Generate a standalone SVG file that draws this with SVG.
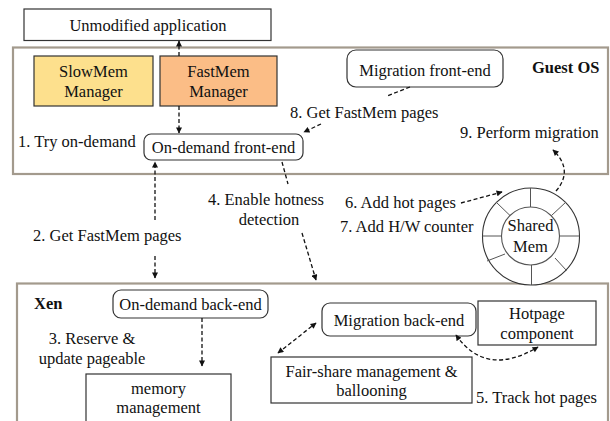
<svg xmlns="http://www.w3.org/2000/svg" width="610" height="421" viewBox="0 0 610 421">
<defs>
<style>
text{font-family:"Liberation Serif","Times New Roman",serif;font-size:16.5px;fill:#111}
.c{text-anchor:middle}
.b{font-weight:bold}
.box{fill:#fff;stroke:#333;stroke-width:1.2}
.layer{fill:none;stroke:#a39a8d;stroke-width:2.2}
.dash{fill:none;stroke:#111;stroke-width:1.3;stroke-dasharray:4 2.5}
.spoke{stroke:#555;stroke-width:1}
</style>
<marker id="ah" viewBox="0 0 10 10" refX="9" refY="5" markerWidth="7" markerHeight="6" markerUnits="userSpaceOnUse" orient="auto-start-reverse">
<path d="M0,0 L10,5 L0,10 Z" fill="#111"/>
</marker>
</defs>
<rect width="610" height="421" fill="#fff"/>

<g id="guest-os">
<rect class="layer" x="13" y="47.5" width="595" height="126.5"/>
<text class="b" x="532" y="73">Guest OS</text>
</g>
<g id="xen">
<rect class="layer" x="17" y="283.5" width="591" height="160"/>
<text class="b" x="34" y="309">Xen</text>
</g>

<g id="unmodified-application">
<rect class="box" x="24" y="9" width="247" height="31.5"/>
<text class="c" x="148" y="31">Unmodified application</text>
</g>
<g id="slowmem-manager">
<rect x="34" y="56" width="119" height="50" fill="#fde08d" stroke="#333" stroke-width="1.2"/>
<text class="c" x="93.5" y="77">SlowMem</text>
<text class="c" x="93.5" y="97">Manager</text>
</g>
<g id="fastmem-manager">
<rect x="160" y="56" width="117" height="50" fill="#fbbd86" stroke="#333" stroke-width="1.2"/>
<text class="c" x="218.5" y="77">FastMem</text>
<text class="c" x="218.5" y="97">Manager</text>
</g>
<g id="on-demand-front-end">
<rect class="box" x="144" y="134" width="159" height="26" rx="7"/>
<text class="c" x="223.5" y="153">On-demand front-end</text>
</g>
<g id="migration-front-end">
<rect class="box" x="347" y="50" width="156" height="37" rx="9"/>
<text class="c" x="425" y="76">Migration front-end</text>
</g>
<g id="shared-mem">
<circle cx="531" cy="236.5" r="48.5" fill="#fff" stroke="#333" stroke-width="1.1"/>
<circle cx="530.5" cy="236" r="29" fill="#fff" stroke="#555" stroke-width="1.1"/>
<line class="spoke" x1="530.5" y1="188" x2="530.5" y2="207"/>
<line class="spoke" x1="531.5" y1="265" x2="531.5" y2="285"/>
<line class="spoke" x1="482.5" y1="236" x2="501.5" y2="236"/>
<line class="spoke" x1="559.5" y1="236" x2="579.5" y2="236"/>
<line class="spoke" x1="496" y1="202" x2="510" y2="215.5"/>
<line class="spoke" x1="566" y1="202" x2="551.5" y2="215.5"/>
<line class="spoke" x1="555" y1="258" x2="566.5" y2="270.5"/>
<line class="spoke" x1="487" y1="261" x2="505" y2="254"/>
<text class="c" x="530.5" y="231">Shared</text>
<text class="c" x="530.5" y="252">Mem</text>
</g>
<g id="on-demand-back-end">
<rect class="box" x="113" y="290" width="155" height="28" rx="8"/>
<text class="c" x="190.5" y="310">On-demand back-end</text>
</g>
<g id="memory-management">
<rect class="box" x="86" y="374" width="145" height="60"/>
<text class="c" x="158.5" y="394">memory</text>
<text class="c" x="158.5" y="413">management</text>
</g>
<g id="migration-back-end">
<rect class="box" x="322" y="303" width="154" height="33" rx="8"/>
<text class="c" x="399" y="326">Migration back-end</text>
</g>
<g id="hotpage-component">
<rect class="box" x="478" y="301" width="118" height="44"/>
<text class="c" x="537" y="319">Hotpage</text>
<text class="c" x="537" y="339">component</text>
</g>
<g id="fair-share">
<rect class="box" x="271" y="357" width="201" height="46"/>
<text class="c" x="371.5" y="377">Fair-share management &amp;</text>
<text class="c" x="371.5" y="396">ballooning</text>
</g>

<g id="labels">
<text x="18" y="147">1. Try on-demand</text>
<text x="33" y="241">2. Get FastMem pages</text>
<text class="c" x="92" y="344">3. Reserve &amp;</text>
<text class="c" x="92" y="364">update pageable</text>
<text class="c" x="266" y="205">4. Enable hotness</text>
<text class="c" x="269" y="225">detection</text>
<text x="476" y="403">5. Track hot pages</text>
<text x="345" y="208">6. Add hot pages</text>
<text x="340" y="232">7. Add H/W counter</text>
<text x="290" y="118">8. Get FastMem pages</text>
<text x="460" y="138">9. Perform migration</text>
</g>

<g id="connectors">
<line class="dash" x1="179" y1="56" x2="179" y2="41" marker-end="url(#ah)"/>
<line class="dash" x1="179" y1="106" x2="179" y2="133" marker-end="url(#ah)"/>
<line class="dash" x1="155" y1="220" x2="155" y2="162" marker-end="url(#ah)"/>
<line class="dash" x1="155" y1="256" x2="155" y2="278" marker-end="url(#ah)"/>
<line class="dash" x1="202" y1="318" x2="202" y2="366" marker-end="url(#ah)"/>
<line class="dash" x1="282" y1="162" x2="288" y2="184"/>
<line class="dash" x1="302" y1="233" x2="316" y2="280" marker-end="url(#ah)"/>
<line class="dash" x1="410" y1="87" x2="387" y2="96"/>
<line class="dash" x1="321" y1="124" x2="304" y2="132" marker-end="url(#ah)"/>
<line class="dash" x1="461" y1="203" x2="502" y2="192" marker-end="url(#ah)"/>
<path class="dash" d="M556,191 Q574,170 553,150" marker-end="url(#ah)"/>
<line class="dash" x1="278" y1="353" x2="316" y2="323" marker-start="url(#ah)" marker-end="url(#ah)"/>
<path class="dash" d="M456,335 Q486,378 538,347" marker-start="url(#ah)" marker-end="url(#ah)"/>
</g>
</svg>
